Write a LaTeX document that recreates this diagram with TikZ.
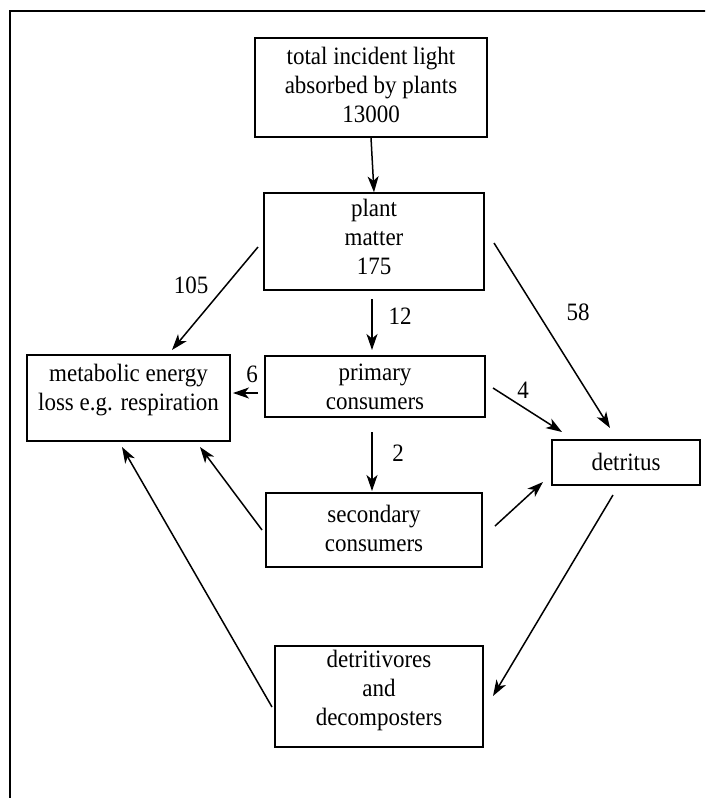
\documentclass[tikz,border=0pt]{standalone}
\usepackage{fontspec}
\setmainfont{Liberation Serif}[FakeStretch=0.92]
\usetikzlibrary{arrows.meta}
\begin{document}
\begin{tikzpicture}[x=1pt,y=-1pt,
  box/.style={draw, line width=1.4pt, inner sep=0pt},
  txt/.style={align=center, inner sep=0pt, font=\fontsize{25}{29}\selectfont},
  lbl/.style={inner sep=0pt, font=\fontsize{25}{29}\selectfont},
  arr/.style={line width=1.5pt, -{Stealth[length=16pt,width=11pt,inset=4.5pt]}}]
\useasboundingbox (0,0) rectangle (705,798);
\clip (0,0) rectangle (705,798);
\fill[white] (0,0) rectangle (705,798);
% outer frame
\draw[line width=2.5pt] (10,820) -- (10,11) -- (720,11);
% boxes
\node[box, minimum width=232pt, minimum height=99pt] (light) at (371,87.5) {};
\node[txt] (lightT) at ([yshift=3pt]light.center) {total incident light\\absorbed by plants\\13000};
\node[box, minimum width=220pt, minimum height=97pt] (plant) at (374,241.5) {};
\node[txt] (plantT) at ([yshift=5pt]plant.center) {plant\\matter\\175};
\node[box, minimum width=220pt, minimum height=61pt] (primary) at (375,386.5) {};
\node[txt] (primaryT) at (primary.center) {primary\\consumers};
\node[box, minimum width=203pt, minimum height=86pt] (metab) at (128.5,398) {};
\node[txt] (metabT) at ([yshift=8pt]metab.center) {metabolic energy\\loss e.g. respiration};
\node[box, minimum width=148pt, minimum height=45pt] (detritus) at (626,462.5) {};
\node[txt] (detritusT) at ([yshift=1pt]detritus.center) {detritus};
\node[box, minimum width=216pt, minimum height=74pt] (secondary) at (374,530) {};
\node[txt] (secondaryT) at ([yshift=2pt]secondary.center) {secondary\\consumers};
\node[box, minimum width=208pt, minimum height=101pt] (decomp) at (379,696.5) {};
\node[txt] (decompT) at ([yshift=6pt]decomp.center) {detritivores\\and\\decomposters};
% connector end points
\coordinate (pl1) at (258,247);
\coordinate (me1) at (172,350);
\coordinate (pl2) at (372,299);
\coordinate (pr1) at (372,350);
\coordinate (pl3) at (494,243);
\coordinate (de1) at (610,428);
\coordinate (pr2) at (258,393);
\coordinate (me2) at (233,393);
\coordinate (pr3) at (493,388);
\coordinate (de2) at (562,432);
\coordinate (pr4) at (372,432);
\coordinate (se1) at (372,491);
\coordinate (se2) at (262,530);
\coordinate (me3) at (200,447);
\coordinate (se3) at (495,526);
\coordinate (de3) at (543,482);
\coordinate (de4) at (613,495);
\coordinate (dc1) at (493,696);
\coordinate (dc2) at (272,707);
\coordinate (me4) at (122,447);
% connectors
\draw[arr] (light.south) -- (plant.north);
\draw[arr] (pl1) -- (me1);
\draw[arr] (pl2) -- (pr1);
\draw[arr] (pl3) -- (de1);
\draw[arr] (pr2) -- (me2);
\draw[arr] (pr3) -- (de2);
\draw[arr] (pr4) -- (se1);
\draw[arr] (se2) -- (me3);
\draw[arr] (se3) -- (de3);
\draw[arr] (de4) -- (dc1);
\draw[arr] (dc2) -- (me4);
% labels
\node[lbl] (l105) at (191,285) {105};
\node[lbl] (l12) at (400,316) {12};
\node[lbl] (l58) at (578,312) {58};
\node[lbl] (l6) at (252,374) {6};
\node[lbl] (l4) at (523,390) {4};
\node[lbl] (l2) at (398,453) {2};
\end{tikzpicture}
\end{document}
